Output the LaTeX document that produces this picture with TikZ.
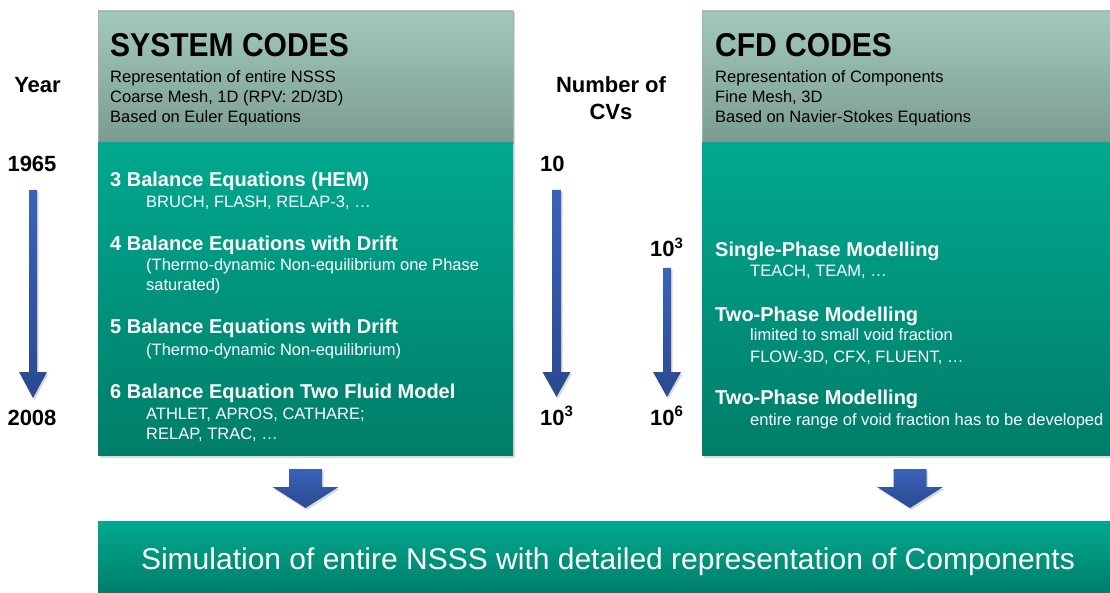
\documentclass[tikz,border=0pt]{standalone}
\usepackage{fontspec}
\usepackage{graphicx}
\setmainfont{Liberation Sans}
\usetikzlibrary{shadows}

\definecolor{headTop}{HTML}{A2C9BF}
\definecolor{headBot}{HTML}{7B9B90}
\definecolor{bodyTop}{HTML}{00A98E}
\definecolor{bodyBot}{HTML}{007D69}
\definecolor{arrTop}{HTML}{3B62BA}
\definecolor{arrBot}{HTML}{2A4990}

\tikzset{
  boxshadow/.style={drop shadow={opacity=0.28, shadow xshift=2pt, shadow yshift=-2.5pt}},
  headbox/.style={rectangle, inner sep=0, outer sep=0, top color=headTop, bottom color=headBot,
    draw=gray!65, line width=0.7pt, boxshadow},
  bodybox/.style={rectangle, inner sep=0, outer sep=0, top color=bodyTop, bottom color=bodyBot, boxshadow},
  arrowfill/.style={top color=arrTop, bottom color=arrBot,
    drop shadow={opacity=0.3, shadow xshift=1.5pt, shadow yshift=-2pt}},
  ttl/.style={anchor=base west, inner sep=0, font=\fontsize{33}{36}\selectfont\bfseries},
  hsub/.style={anchor=base west, inner sep=0, font=\fontsize{16.5}{20}\selectfont},
  hd/.style={anchor=base west, inner sep=0, text=white, font=\fontsize{20}{24}\selectfont\bfseries},
  sb/.style={anchor=base west, inner sep=0, text=white, font=\fontsize{16.5}{20}\selectfont},
  lbl/.style={anchor=base, inner sep=0, font=\fontsize{22}{26}\selectfont\bfseries},
  lblw/.style={anchor=base west, inner sep=0, font=\fontsize{22}{26}\selectfont\bfseries},
}

% vertical block arrow: x, top of shaft, top of head, tip, half shaft width, half head width
\newcommand{\blockarrow}[6]{%
  \path[arrowfill] ({#1-#5},#2) -- ({#1+#5},#2) -- ({#1+#5},#3) -- ({#1+#6},#3)
    -- (#1,#4) -- ({#1-#6},#3) -- ({#1-#5},#3) -- cycle;}

\newcommand{\pw}[1]{\raisebox{0.4em}{\fontsize{15}{15}\selectfont #1}}

\begin{document}
\begin{tikzpicture}[x=1pt, y=-1pt]
\useasboundingbox (0,0) rectangle (1110,593);

% ---- system codes column ----
\node[headbox, minimum width=415, minimum height=132] (syshead) at (305.5,77) {};
\node[bodybox, minimum width=415, minimum height=312] (sysbody) at (305.5,299) {};

% ---- CFD codes column ----
\node[headbox, minimum width=412, minimum height=132] (cfdhead) at (908,77) {};
\node[bodybox, minimum width=412, minimum height=312] (cfdbody) at (908,299) {};

% ---- result box ----
\node[bodybox, minimum width=1016, minimum height=74] (result) at (606,558) {};

% header texts
\node[ttl] (systitle) at (110,57) {\scalebox{0.91}[1]{SYSTEM CODES}};
\node[hsub] (sys1) at (110,83) {Representation of entire NSSS};
\node[hsub] (sys2) at (110,103) {Coarse Mesh, 1D (RPV: 2D/3D)};
\node[hsub] (sys3) at (110,123) {Based on Euler Equations};

\node[ttl] (cfdtitle) at (715,57) {\scalebox{0.91}[1]{CFD CODES}};
\node[hsub] (cfd1) at (715,83) {Representation of Components};
\node[hsub] (cfd2) at (715,103) {Fine Mesh, 3D};
\node[hsub] (cfd3) at (715,123) {Based on Navier-Stokes Equations};

% system code generations
\node[hd] (eq3) at (110,187) {3 Balance Equations (HEM)};
\node[sb] (eq3a) at (146,208) {BRUCH, FLASH, RELAP-3, …};
\node[hd] (eq4) at (110,251) {4 Balance Equations with Drift};
\node[sb] (eq4a) at (146,271) {(Thermo-dynamic Non-equilibrium one Phase};
\node[sb] (eq4b) at (146,291) {saturated)};
\node[hd] (eq5) at (110,334) {5 Balance Equations with Drift};
\node[sb] (eq5a) at (146,355) {(Thermo-dynamic Non-equilibrium)};
\node[hd] (eq6) at (110,398) {6 Balance Equation Two Fluid Model};
\node[sb] (eq6a) at (146,419) {ATHLET, APROS, CATHARE;};
\node[sb] (eq6b) at (146,439) {RELAP, TRAC, …};

% CFD generations
\node[hd] (sp) at (715,257) {Single-Phase Modelling};
\node[sb] (spa) at (750,277) {TEACH, TEAM, …};
\node[hd] (tp1) at (715,321) {Two-Phase Modelling};
\node[sb] (tp1a) at (750,341) {limited to small void fraction};
\node[sb] (tp1b) at (750,362) {FLOW-3D, CFX, FLUENT, …};
\node[hd] (tp2) at (715,404) {Two-Phase Modelling};
\node[sb] (tp2a) at (750,425) {entire range of void fraction has to be developed};

% result text
\node[anchor=base, inner sep=0, text=white, font=\fontsize{30}{34}\selectfont] (restext) at (608,569)
  {Simulation of entire NSSS with detailed representation of Components};

% year scale
\node[lbl] (year) at (37.5,93) {Year};
\node[lbl] (y1965) at (32,172) {1965};
\node[lbl] (y2008) at (32,425) {2008};
\blockarrow{33}{190}{372}{398}{4}{14}

% number of control volumes
\node[lbl] (ncv1) at (611,93) {Number of};
\node[lbl] (ncv2) at (611,120) {CVs};
\node[lblw] (cvA) at (540,172) {10};
\node[lblw] (cvB) at (540,425) {10\pw{3}};
\node[lblw] (cvC) at (650,257) {10\pw{3}};
\node[lblw] (cvD) at (650,425) {10\pw{6}};
\blockarrow{556.5}{190}{372}{397}{4.5}{14}
\blockarrow{667}{268}{372}{397}{4}{14}

% arrows into the result box
\blockarrow{305.5}{469}{487}{508}{16.5}{33}
\blockarrow{910}{469}{487}{508}{16.5}{33}
\end{tikzpicture}
\end{document}
